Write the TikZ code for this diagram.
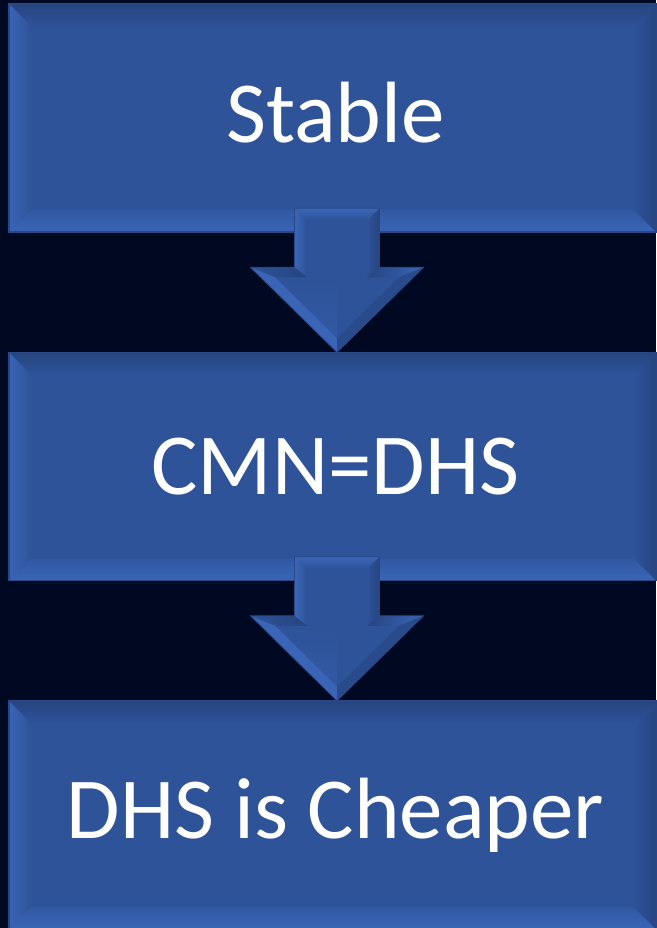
\documentclass[tikz,border=0pt]{standalone}
\usepackage{fontspec}
\setmainfont{Carlito}
\usetikzlibrary{calc}

\definecolor{bgnavy}{HTML}{000822}
\definecolor{boxblue}{HTML}{2E5399}
\definecolor{bevellight}{HTML}{3A65B7}
\definecolor{beveldark}{HTML}{26447F}
\definecolor{bevelbottom}{HTML}{3560B0}
\definecolor{rimline}{HTML}{284784}
\definecolor{facelight}{HTML}{3259A4}

\tikzset{
  blockbox/.style={rectangle, fill=boxblue, inner sep=0pt,
    minimum width=647pt, minimum height=228pt},
  boxlabel/.style={text=white, inner sep=0pt, font=\fontsize{87}{100}\selectfont},
  arrowedge/.style={draw=rimline, line width=0.8pt, line join=miter},
}

% bevelled frame around a named box
\newcommand\bevelize[1]{%
  \shade[top color=beveldark, bottom color=boxblue]
    (#1.north west) -- (#1.north east) -- ($(#1.north east)+(-22,22)$) -- ($(#1.north west)+(22,22)$) -- cycle;
  \shade[left color=bevellight, right color=boxblue]
    (#1.north west) -- (#1.south west) -- ($(#1.south west)+(22,-22)$) -- ($(#1.north west)+(22,22)$) -- cycle;
  \shade[top color=boxblue!60!bevelbottom, bottom color=bevellight]
    (#1.south west) -- (#1.south east) -- ($(#1.south east)+(-22,-22)$) -- ($(#1.south west)+(22,-22)$) -- cycle;
  \shade[left color=boxblue, right color=beveldark]
    (#1.north east) -- (#1.south east) -- ($(#1.south east)+(-22,-22)$) -- ($(#1.north east)+(-22,22)$) -- cycle;
  \draw[rimline, line width=1.5pt] (#1.north west) rectangle (#1.south east);
}

% bevelled block arrow from the bottom of box #1 to the top of box #2
\newcommand\blockarrow[2]{%
  \coordinate (A) at ($(#1.south)+(4.5,-24)$);
  \coordinate (T) at ($(#2.north)+(4.5,0)$);
  \fill[boxblue] ($(A)+(-42.5,0)$) -- ($(A)+(42.5,0)$) -- ($(T)+(42.5,-85)$) -- ($(T)+(86.5,-85)$)
    -- (T) -- ($(T)+(-86.5,-85)$) -- ($(T)+(-42.5,-85)$) -- cycle;
  % inner face, left half a little lighter
  \shade[top color=boxblue, bottom color=facelight]
    ($(T)+(-62,-75)$) -- ($(T)+(0,-75)$) -- ($(T)+(0,-14)$) -- cycle;
  % shaft sides and top
  \shade[left color=bevellight, right color=boxblue]
    ($(A)+(-42.5,0)$) -- ($(A)+(-30,12)$) -- ($(T)+(-30,-75)$) -- ($(T)+(-42.5,-85)$) -- cycle;
  \shade[left color=boxblue, right color=beveldark]
    ($(A)+(42.5,0)$) -- ($(A)+(30,12)$) -- ($(T)+(30,-75)$) -- ($(T)+(42.5,-85)$) -- cycle;
  \shade[top color=bevellight, bottom color=boxblue]
    ($(A)+(-42.5,0)$) -- ($(A)+(42.5,0)$) -- ($(A)+(30,12)$) -- ($(A)+(-30,12)$) -- cycle;
  % head shoulders
  \shade[left color=boxblue, right color=beveldark]
    ($(T)+(-86.5,-85)$) -- ($(T)+(-42.5,-85)$) -- ($(T)+(-30,-75)$) -- ($(T)+(-62,-75)$) -- cycle;
  \shade[left color=beveldark, right color=bevellight]
    ($(T)+(86.5,-85)$) -- ($(T)+(42.5,-85)$) -- ($(T)+(30,-75)$) -- ($(T)+(62,-75)$) -- cycle;
  % head slanted sides
  \fill[bevellight] ($(T)+(-86.5,-85)$) -- ($(T)+(-62,-75)$) -- ($(T)+(0,-14)$) -- (T) -- cycle;
  \fill[beveldark!55!boxblue] ($(T)+(86.5,-85)$) -- ($(T)+(62,-75)$) -- ($(T)+(0,-14)$) -- (T) -- cycle;
  \draw[arrowedge] ($(A)+(-42.5,0)$) -- ($(A)+(42.5,0)$) -- ($(T)+(42.5,-85)$) -- ($(T)+(86.5,-85)$)
    -- (T) -- ($(T)+(-86.5,-85)$) -- ($(T)+(-42.5,-85)$) -- cycle;
}

\begin{document}
\begin{tikzpicture}[x=1pt, y=-1pt]
  \fill[bgnavy] (0,0) rectangle (656,928);
  \useasboundingbox (0,0) rectangle (656,928);

  \node[blockbox] (stable) at (332.5,118) {};
  \bevelize{stable}
  \node[boxlabel] (stabletext) at ($(stable.center)+(3,-5)$) {Stable};

  \node[blockbox] (cmn) at (332.5,466.5) {};
  \bevelize{cmn}
  \node[boxlabel] (cmntext) at ($(cmn.center)+(3,0)$) {CMN=DHS};

  \node[blockbox] (cheaper) at (332.5,815) {};
  \bevelize{cheaper}
  \node[boxlabel] (cheapertext) at ($(cheaper.center)+(3,0)$) {DHS is Cheaper};

  \blockarrow{stable}{cmn}
  \blockarrow{cmn}{cheaper}
\end{tikzpicture}
\end{document}
